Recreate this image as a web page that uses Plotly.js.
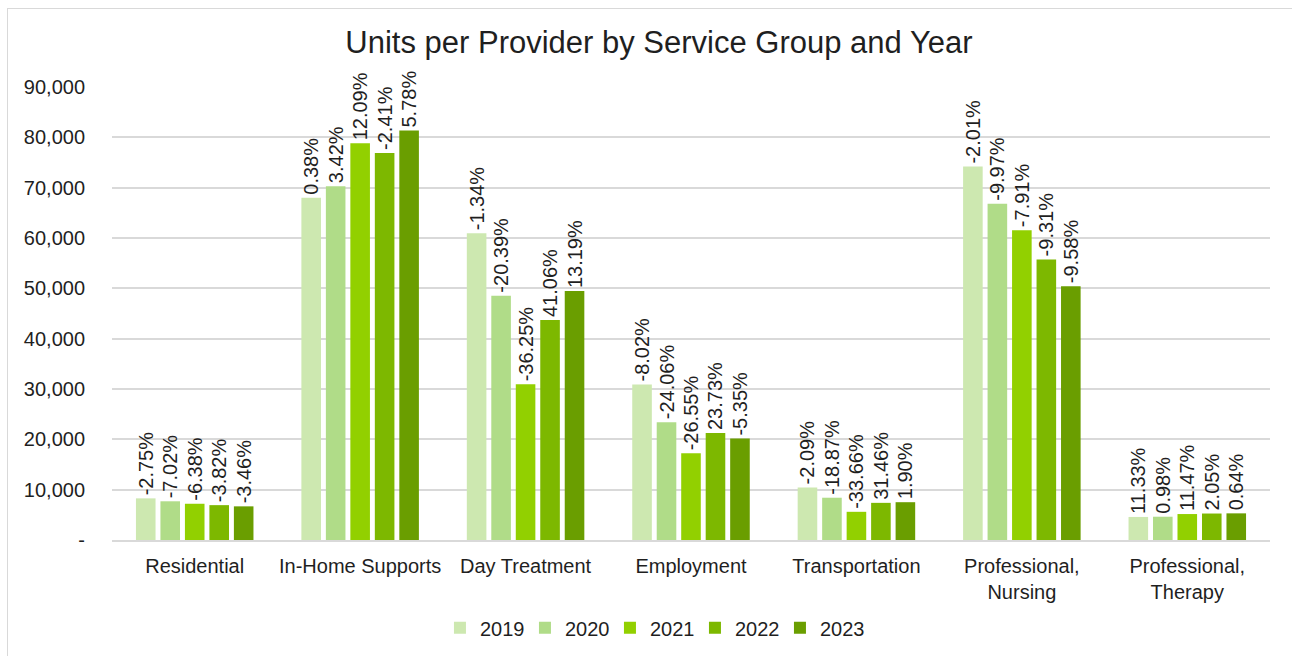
<!DOCTYPE html>
<html>
<head>
<meta charset="utf-8">
<script src="https://cdn.plot.ly/plotly-3.0.1.min.js"></script>
<style>
html,body{margin:0;padding:0;background:#fff;}
#wrap{position:relative;width:1292px;height:656px;overflow:hidden;}
#frame{position:absolute;left:7px;top:8px;width:1300px;height:660px;border:1px solid #d9d9d9;box-sizing:border-box;pointer-events:none;}
#chart{position:absolute;left:0;top:0;width:1292px;height:656px;}
</style>
</head>
<body>
<div id="wrap"><div id="chart"></div><div id="frame"></div></div>
<script>
const categories = ["Residential", "In-Home Supports", "Day Treatment", "Employment", "Transportation", "Professional,<br>Nursing", "Professional,<br>Therapy"];
const years = ["2019", "2020", "2021", "2022", "2023"];
const v2019 = [8270, 68000, 60950, 30900, 10450, 74190, 4580];
const v2020 = [7690, 70300, 48550, 23400, 8400, 66800, 4625];
const v2021 = [7200, 78800, 30920, 17220, 5600, 61560, 5155];
const v2022 = [6925, 76900, 43700, 21250, 7380, 55750, 5260];
const v2023 = [6685, 81350, 49450, 20150, 7510, 50430, 5295];
const p2019 = ["-2.75%", "0.38%", "-1.34%", "-8.02%", "-2.09%", "-2.01%", "11.33%"];
const p2020 = ["-7.02%", "3.42%", "-20.39%", "-24.06%", "-18.87%", "-9.97%", "0.98%"];
const p2021 = ["-6.38%", "12.09%", "-36.25%", "-26.55%", "-33.66%", "-7.91%", "11.47%"];
const p2022 = ["-3.82%", "-2.41%", "41.06%", "23.73%", "31.46%", "-9.31%", "2.05%"];
const p2023 = ["-3.46%", "5.78%", "13.19%", "-5.35%", "1.90%", "-9.58%", "0.64%"];
const tickVals = [0, 10000, 20000, 30000, 40000, 50000, 60000, 70000, 80000, 90000];
const tickText = ["-", "10,000", "20,000", "30,000", "40,000", "50,000", "60,000", "70,000", "80,000", "90,000"];

const colors = ["#cde8b0", "#b0dc88", "#92d000", "#7db800", "#6a9e00"];
const values = [v2019, v2020, v2021, v2022, v2023];
const pcts = [p2019, p2020, p2021, p2022, p2023];
const font = "Liberation Sans, Arial, sans-serif";
const txt = "#1f1f1f";

const data = years.map((y, i) => ({
  type: "bar",
  name: y,
  x: categories,
  y: values[i],
  text: pcts[i],
  texttemplate: "%{text}",
  textposition: "outside",
  textangle: -90,
  constraintext: "none",
  cliponaxis: false,
  textfont: {family: font, size: 20, color: txt},
  marker: {color: colors[i]},
  hoverinfo: "x+y"
}));

const layout = {
  width: 1292, height: 656,
  margin: {l: 112, r: 22, t: 87, b: 116, autoexpand: false},
  paper_bgcolor: "rgba(0,0,0,0)",
  plot_bgcolor: "#fff",
  barmode: "group",
  bargap: 0.26,
  bargroupgap: 0.2,
  font: {family: font, size: 20, color: txt},
  title: {text: "Units per Provider by Service Group and Year", x: 0.51, xanchor: "center", y: 0.935, yanchor: "middle",
          font: {family: font, size: 31, color: txt}},
  xaxis: {
    type: "category", automargin: false,
    showgrid: false, showline: true, linecolor: "#d9d9d9", linewidth: 2,
    ticks: "outside", ticklen: 7, tickcolor: "rgba(0,0,0,0)",
    tickfont: {family: font, size: 20, color: txt}
  },
  yaxis: {
    range: [0, 90000], automargin: false,
    tickvals: tickVals, ticktext: tickText,
    showgrid: true, gridcolor: "#d9d9d9", gridwidth: 2,
    zeroline: false, showline: false,
    ticks: "outside", ticklen: 22, tickcolor: "rgba(0,0,0,0)",
    tickfont: {family: font, size: 20, color: txt}
  },
  legend: {
    orientation: "h", xref: "container", yref: "container",
    x: 0.505, xanchor: "center", y: 0.043, yanchor: "middle",
    font: {family: font, size: 20, color: txt},
    itemwidth: 30, traceorder: "normal",
    entrywidth: 40, entrywidthmode: "pixels"
  },
  showlegend: true
};

Plotly.newPlot("chart", data, layout, {displayModeBar: false, staticPlot: true});
</script>
</body>
</html>
